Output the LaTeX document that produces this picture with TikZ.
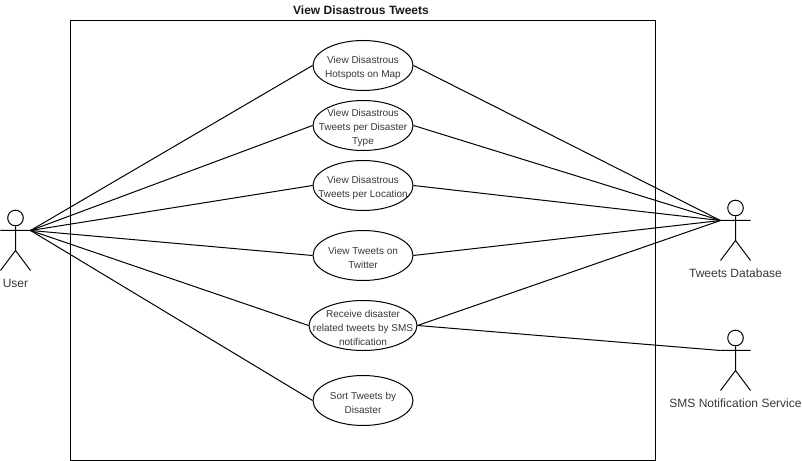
\documentclass[tikz,border=0pt]{standalone}
\usepackage{fontspec}
\setmainfont{Liberation Sans}
\usetikzlibrary{shapes.geometric}
\tikzset{
  uc/.style={draw=black,fill=white,ellipse,inner sep=0pt,minimum height=50bp},
  uctext/.style={align=center,text=black!78,font=\fontsize{10bp}{14bp}\selectfont,inner sep=0pt,yshift=-2.5bp},
  actortext/.style={text=black!78,font=\fontsize{12bp}{14bp}\selectfont,inner sep=0pt},
  head/.style={draw=black,circle,inner sep=0pt,minimum size=15.6bp},
}
\begin{document}
\begin{tikzpicture}[x=1bp,y=-1bp,line width=1bp]
\useasboundingbox (0,0) rectangle (802,461);
\path[fill=white] (0,0) rectangle (802,461);
\node[draw=black,line width=1bp,minimum width=585bp,minimum height=440bp,inner sep=0pt] (sys) at (363,240.5) {};
\node[inner sep=0pt,font=\bfseries\fontsize{12bp}{14bp}\selectfont,text=black!90] (title) at (361,10) {View Disastrous Tweets};

% actors: arm end points are the connector ends
\coordinate (ur) at (30.5,230.5);
\coordinate (dl) at (720.5,220.5);
\coordinate (sl) at (720.5,350.5);

% User
\node[head] (uh) at (15.5,218) {};
\coordinate (ul) at (0.5,230.5);
\coordinate (uhip) at (15.5,250.5);
\coordinate (ufl) at (0.5,270.5);
\coordinate (ufr) at (30.5,270.5);
\draw (uh.south) -- (uhip) (ul) -- (ur) (ufl) -- (uhip) -- (ufr);
\node[actortext] (ut) at (15.5,283.5) {User};

% Tweets Database
\node[head] (dh) at (735.5,208) {};
\coordinate (dr) at (750.5,220.5);
\coordinate (dhip) at (735.5,240.5);
\coordinate (dfl) at (720.5,260.5);
\coordinate (dfr) at (750.5,260.5);
\draw (dh.south) -- (dhip) (dl) -- (dr) (dfl) -- (dhip) -- (dfr);
\node[actortext] (dt) at (735.5,273.5) {Tweets Database};

% SMS Notification Service
\node[head] (sh) at (735.5,338) {};
\coordinate (sr) at (750.5,350.5);
\coordinate (ship) at (735.5,370.5);
\coordinate (sfl) at (720.5,390.5);
\coordinate (sfr) at (750.5,390.5);
\draw (sh.south) -- (ship) (sl) -- (sr) (sfl) -- (ship) -- (sfr);
\node[actortext] (st) at (735.5,403.5) {SMS Notification Service};

% use cases
\node[uc,minimum width=100bp] (e1) at (363,65.5) {};
\node[uc,minimum width=100bp] (e2) at (363,125.5) {};
\node[uc,minimum width=100bp] (e3) at (363,185.5) {};
\node[uc,minimum width=100bp] (e4) at (363,255.5) {};
\node[uc,minimum width=108bp] (e5) at (363,325.5) {};
\node[uc,minimum width=100bp] (e6) at (363,400.5) {};

\node[uctext] (t1) at (e1) {View Disastrous\\Hotspots on Map};
\node[uctext] (t2) at (e2) {View Disastrous\\Tweets per Disaster\\Type};
\node[uctext] (t3) at (e3) {View Disastrous\\Tweets per Location};
\node[uctext] (t4) at (e4) {View Tweets on\\Twitter};
\node[uctext] (t5) at (e5) {Receive disaster\\related tweets by SMS\\notification};
\node[uctext] (t6) at (e6) {Sort Tweets by\\Disaster};

% connectors
\foreach \e in {e1,e2,e3,e4,e5,e6} \draw (ur) -- (\e.west);
\foreach \e in {e1,e2,e3,e4,e5} \draw (\e.east) -- (dl);
\draw (e5.east) -- (sl);
\end{tikzpicture}
\end{document}
